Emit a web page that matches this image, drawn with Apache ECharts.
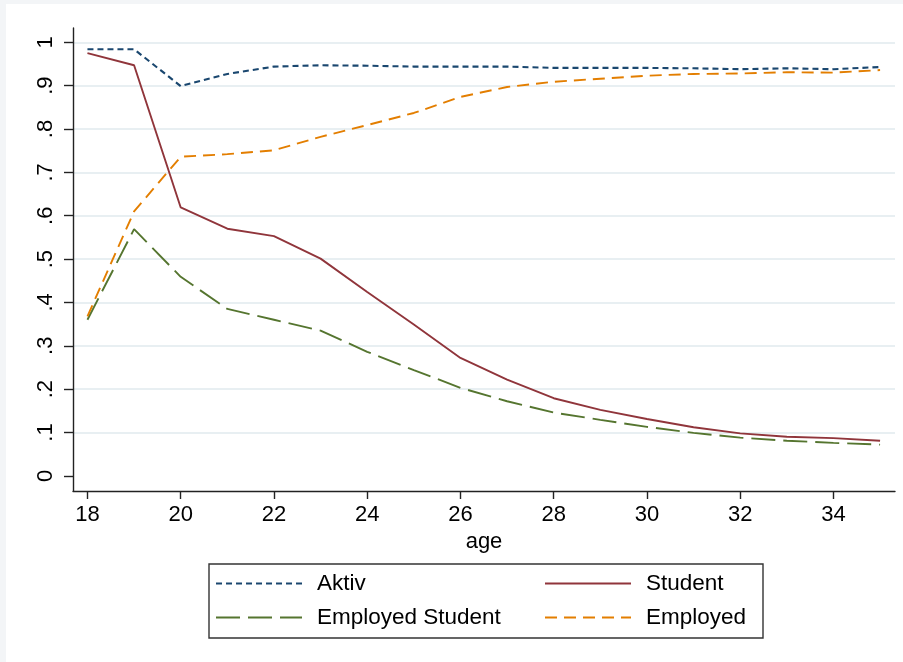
<!DOCTYPE html>
<html>
<head>
<meta charset="utf-8">
<script src="https://cdn.jsdelivr.net/npm/echarts@6/dist/echarts.min.js"></script>
<style>
html,body{margin:0;padding:0;background:#f3f5f7;width:903px;height:662px;overflow:hidden;}
#c{position:absolute;left:6px;top:4px;width:897px;height:658px;background:#ffffff;}
</style>
</head>
<body>
<div id="c"></div>
<script>
const ages = [18,19,20,21,22,23,24,25,26,27,28,29,30,31,32,33,34,35];
const aktiv = [0.984,0.984,0.899,0.927,0.944,0.947,0.946,0.944,0.944,0.944,0.941,0.941,0.941,0.940,0.938,0.940,0.938,0.943];
const student = [0.975,0.947,0.619,0.570,0.553,0.501,0.424,0.349,0.272,0.222,0.179,0.152,0.131,0.112,0.098,0.090,0.087,0.081];
const employedStudent = [0.360,0.569,0.459,0.385,0.360,0.335,0.286,0.244,0.203,0.172,0.146,0.129,0.113,0.099,0.088,0.081,0.076,0.072];
const employed = [0.368,0.610,0.736,0.742,0.751,0.782,0.809,0.837,0.874,0.897,0.909,0.916,0.923,0.927,0.928,0.931,0.930,0.936];
const xTicks = [18,20,22,24,26,28,30,32,34];
const yTicks = [0,0.1,0.2,0.3,0.4,0.5,0.6,0.7,0.8,0.9,1];
const yGrid = [0.1,0.2,0.3,0.4,0.5,0.6,0.7,0.8,0.9,1];

const pairs = arr => ages.map((a,i)=>[a,arr[i]]);
const fontFam = '"Liberation Sans", Arial, sans-serif';
const axisCol = '#222';

const chart = echarts.init(document.getElementById('c'), null, {renderer:'canvas'});
const yFmt = v => v===0 ? '0' : (v===1 ? '1' : String(Math.round(v*10)/10).replace(/^0\./,'.'));

const legendCommon = {
  orient:'vertical', top:563, itemWidth:86, itemHeight:14, itemGap:11,
  itemStyle:{opacity:0},
  textStyle:{fontSize:22.5,color:'#000',fontFamily:fontFam,padding:[0,0,0,10]}
};

chart.setOption({
  animation:false,
  backgroundColor:'transparent',
  textStyle:{fontFamily:fontFam},
  grid:{left:67,right:8,top:24,bottom:171,containLabel:false},
  xAxis:{
    type:'value', min:17.69, max:35.32,
    name:'age', nameLocation:'middle', nameGap:35,
    nameTextStyle:{fontSize:22,color:'#000',fontFamily:fontFam},
    axisLine:{show:true,onZero:false,lineStyle:{color:axisCol,width:1.4}},
    axisTick:{show:true,length:8,customValues:xTicks,lineStyle:{color:axisCol,width:1.4}},
    axisLabel:{show:true,customValues:xTicks,margin:13,fontSize:22,color:'#000',fontFamily:fontFam},
    splitLine:{show:false}
  },
  yAxis:[{
    type:'value', min:-0.035, max:1.033,
    axisLine:{show:true,onZero:false,lineStyle:{color:axisCol,width:1.4}},
    axisTick:{show:true,length:9,customValues:yTicks,lineStyle:{color:axisCol,width:1.4}},
    axisLabel:{show:true,customValues:yTicks,rotate:90,margin:16,fontSize:22,color:'#000',fontFamily:fontFam,formatter:yFmt},
    splitLine:{show:false}
  },{
    type:'value', min:-0.035, max:1.033, position:'left',
    axisLine:{show:false},
    axisTick:{show:false,customValues:yGrid},
    axisLabel:{show:false,customValues:yGrid},
    splitLine:{show:true,lineStyle:{color:'#e8eff2',width:1.8}}
  }],
  legend:[
    Object.assign({left:204, data:['Aktiv','Employed Student']}, legendCommon),
    Object.assign({left:533, data:['Student','Employed']}, legendCommon)
  ],
  graphic:[{
    type:'rect', left:200.5, top:557.5,
    shape:{width:554,height:74},
    style:{fill:'none',stroke:'#333',lineWidth:1.4},
    silent:true
  }],
  series:[
    {name:'Aktiv',type:'line',data:pairs(aktiv),yAxisIndex:0,symbol:'none',
     lineStyle:{color:'#1a476f',width:2.1,type:[6,4]},itemStyle:{color:'#1a476f'}},
    {name:'Student',type:'line',data:pairs(student),yAxisIndex:0,symbol:'none',
     lineStyle:{color:'#90353b',width:1.9,type:'solid'},itemStyle:{color:'#90353b'}},
    {name:'Employed Student',type:'line',data:pairs(employedStudent),yAxisIndex:0,symbol:'none',
     lineStyle:{color:'#55752f',width:1.9,type:[24,8]},itemStyle:{color:'#55752f'}},
    {name:'Employed',type:'line',data:pairs(employed),yAxisIndex:0,symbol:'none',
     lineStyle:{color:'#e37e00',width:1.9,type:[12,7]},itemStyle:{color:'#e37e00'}}
  ]
});
</script>
</body>
</html>
